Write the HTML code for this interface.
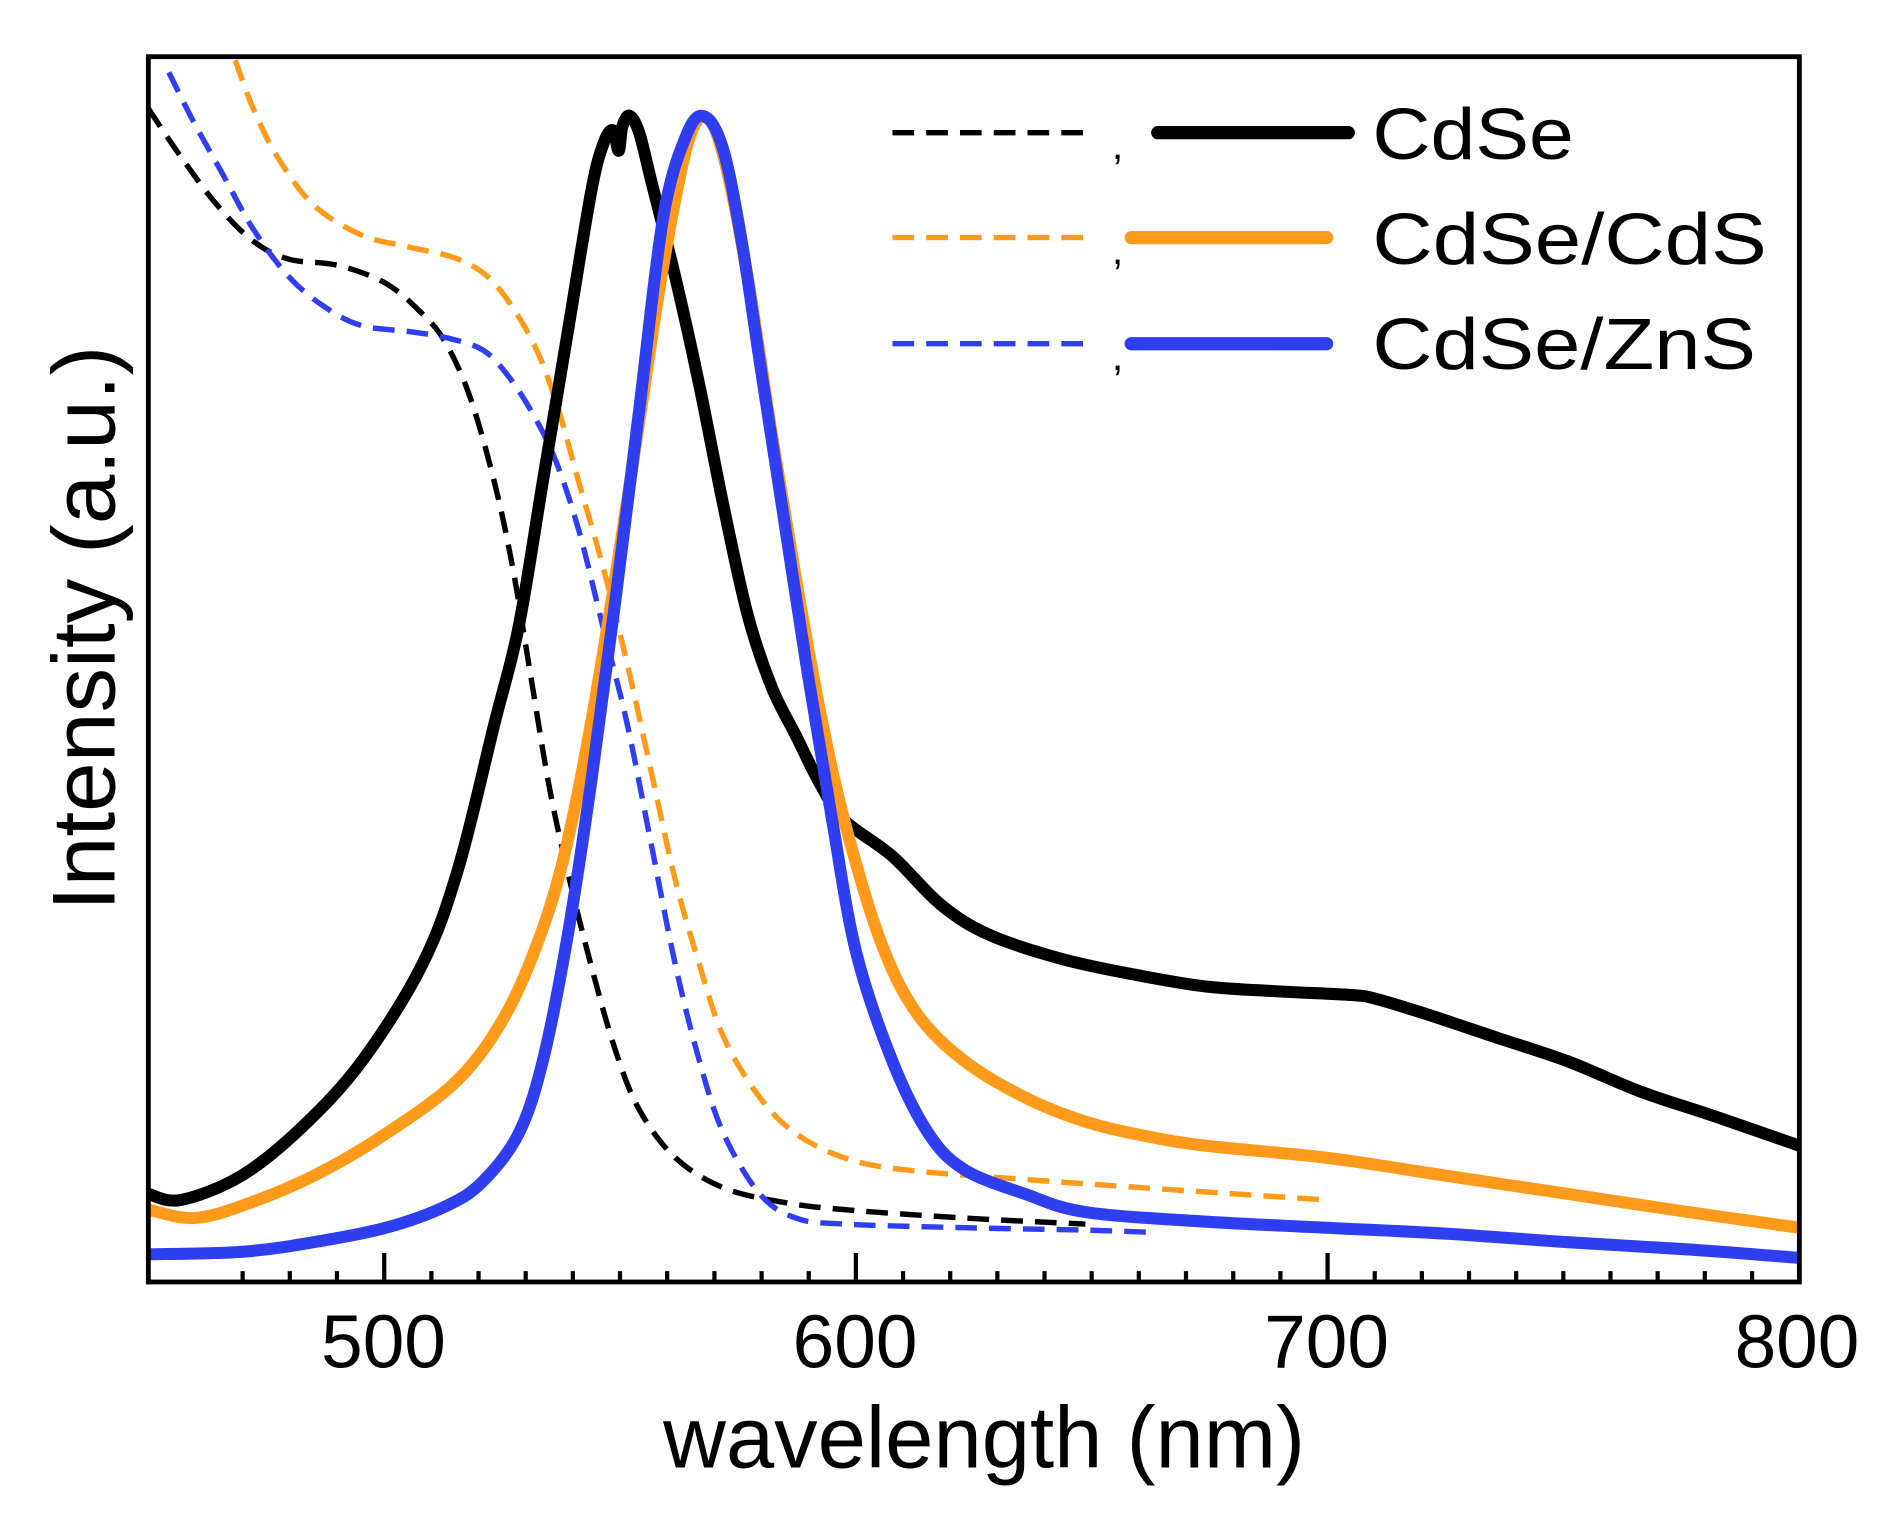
<!DOCTYPE html>
<html><head><meta charset="utf-8"><style>html,body{margin:0;padding:0;background:#fff}svg{display:block}</style></head><body>
<svg id="s" width="1881" height="1515" viewBox="0 0 1559.7 1256.2" xmlns="http://www.w3.org/2000/svg" font-family="Liberation Sans, Arial, sans-serif">
<rect width="1559.7" height="1256.2" fill="#fff"/>
<defs><clipPath id="c"><rect x="123" y="47" width="1369" height="1016"/></clipPath></defs>
<g clip-path="url(#c)" fill="none" stroke-linejoin="round" stroke-linecap="butt">
<polyline class="sm" stroke="#000" stroke-width="4.5" stroke-dasharray="18 10" points="123,90 150,130 180,170 210,200 240,215 280,220 320,235 350,260 370,285 390,330 410,400 425,470 440,560 455,650 470,720 490,800 510,870 530,920 560,960 600,985 650,997 700,1003 800,1010 900,1015"/>
<polyline class="sm" stroke="#ff9a1a" stroke-width="4.5" stroke-dasharray="18 10" points="195,50 210,90 230,130 260,170 300,195 340,205 380,215 410,235 440,280 460,330 480,400 500,470 520,550 540,640 560,730 580,800 600,860 630,910 660,940 700,960 750,970 850,978 950,985 1100,995"/>
<polyline class="sm" stroke="#2f3ff0" stroke-width="4.5" stroke-dasharray="18 10" points="140,60 160,100 185,145 210,190 240,230 270,255 300,270 340,275 370,280 400,290 420,310 440,340 460,380 480,440 500,520 520,600 540,700 560,800 580,880 600,940 630,990 660,1010 700,1015 800,1018 900,1020 960,1022"/>
<polyline class="sm" stroke="#000" stroke-width="10" points="123,990 150,995 200,975 250,935 300,880 350,800 380,720 410,600 430,520 450,400 470,280 490,160 500,120 508,108 513,125 516,105 522,96 530,110 540,150 560,230 580,320 600,420 620,510 640,570 660,610 680,650 700,680 740,710 780,750 820,775 880,795 940,808 1000,818 1060,822 1120,825 1140,828 1180,840 1240,860 1300,880 1360,905 1420,925 1492,950"/>
<polyline class="sm" stroke="#ff9a1a" stroke-width="10" points="123,1003 160,1010 200,1000 260,975 320,940 380,895 420,840 450,770 470,700 490,600 510,480 530,350 550,220 570,120 585,97 600,130 620,230 640,360 660,480 680,590 700,680 730,780 760,840 800,880 850,910 900,930 950,942 1000,950 1100,960 1200,975 1300,990 1400,1005 1492,1018"/>
<polyline class="sm" stroke="#2f3ff0" stroke-width="10" points="123,1040 200,1038 260,1030 320,1018 370,1000 400,980 430,940 450,880 470,780 490,650 510,500 530,340 550,180 570,110 585,97 600,125 615,200 630,300 650,430 670,560 690,680 710,790 740,880 770,940 800,970 850,990 900,1005 1000,1013 1100,1018 1200,1023 1300,1030 1400,1036 1492,1043"/>
</g>
<rect x="123" y="47" width="1369" height="1016" fill="none" stroke="#000" stroke-width="4"/>
<g stroke="#000" stroke-width="3.5">
<path d="M318.6,1063v-24M709.7,1063v-24M1100.8,1063v-24M1492,1063v-24"/>
<path d="M201.2,1063v-9M240.3,1063v-9M279.4,1063v-9M357.7,1063v-9M396.8,1063v-9M435.9,1063v-9M475,1063v-9M514.1,1063v-9M553.2,1063v-9M592.4,1063v-9M631.5,1063v-9M670.6,1063v-9M748.8,1063v-9M787.9,1063v-9M827,1063v-9M866.1,1063v-9M905.2,1063v-9M944.3,1063v-9M983.4,1063v-9M1022.6,1063v-9M1061.7,1063v-9M1139.9,1063v-9M1179,1063v-9M1218.1,1063v-9M1257.2,1063v-9M1296.3,1063v-9M1335.4,1063v-9M1374.5,1063v-9M1413.6,1063v-9M1452.8,1063v-9"/>
</g>
<g font-size="62" text-anchor="middle" fill="#000">
<text x="318" y="1134">500</text><text x="709" y="1134">600</text><text x="1100" y="1134">700</text><text x="1490" y="1134">800</text>
</g>
<text x="816" y="1217" font-size="72" text-anchor="middle">wavelength (nm)</text>
<text transform="translate(95,521) rotate(-90)" font-size="74" text-anchor="middle">Intensity (a.u.)</text>
<g stroke-width="4.5" stroke-dasharray="18 10" fill="none">
<path d="M740,110H900" stroke="#000"/><path d="M740,197H900" stroke="#ff9a1a"/><path d="M740,285H900" stroke="#2f3ff0"/>
</g>
<g stroke-width="11" fill="none" stroke-linecap="round">
<path d="M960,110H1118" stroke="#000"/><path d="M938,197H1100" stroke="#ff9a1a"/><path d="M938,285H1100" stroke="#2f3ff0"/>
</g>
<g font-size="60" fill="#000">
<text x="922" y="132" font-size="34">,</text><text x="922" y="219" font-size="34">,</text><text x="922" y="307" font-size="34">,</text>
<text x="1138" y="132" textLength="167" lengthAdjust="spacingAndGlyphs">CdSe</text><text x="1138" y="219" textLength="327" lengthAdjust="spacingAndGlyphs">CdSe/CdS</text><text x="1138" y="306" textLength="318" lengthAdjust="spacingAndGlyphs">CdSe/ZnS</text>
</g>
</svg>
<script>
document.querySelectorAll('polyline.sm').forEach(function(pl){
 var p=pl.getAttribute('points').trim().split(/\s+/).map(function(s){return s.split(',').map(Number);});
 var d='M'+p[0][0]+','+p[0][1];
 for(var i=0;i<p.length-1;i++){
  var p0=p[i-1]||p[i],p1=p[i],p2=p[i+1],p3=p[i+2]||p2;
  var c1x=p1[0]+(p2[0]-p0[0])/6,c1y=p1[1]+(p2[1]-p0[1])/6,c2x=p2[0]-(p3[0]-p1[0])/6,c2y=p2[1]-(p3[1]-p1[1])/6;
  d+='C'+c1x+','+c1y+' '+c2x+','+c2y+' '+p2[0]+','+p2[1];
 }
 var path=document.createElementNS('http://www.w3.org/2000/svg','path');
 ['stroke','stroke-width','stroke-dasharray'].forEach(function(a){if(pl.getAttribute(a))path.setAttribute(a,pl.getAttribute(a));});
 path.setAttribute('d',d);path.setAttribute('fill','none');
 pl.parentNode.replaceChild(path,pl);
});
</script>
</body></html>
